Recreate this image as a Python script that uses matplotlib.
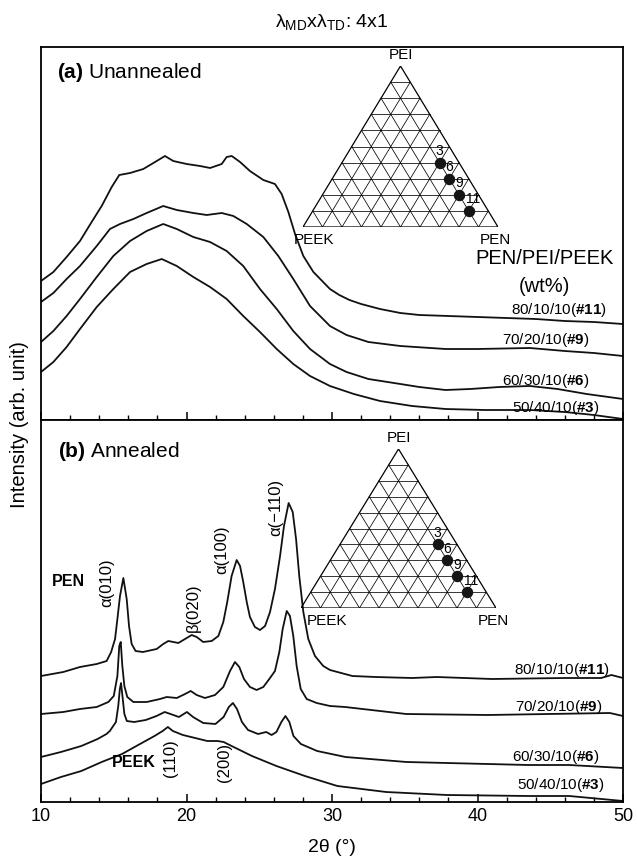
"""
WAXD profiles of PEN/PEI/PEEK blend films drawn 4x1 (MD x TD),
before and after annealing, with the blend compositions on ternary insets.
"""

import numpy as np
from matplotlib import pyplot as plt

plt.rcParams['font.family'] = ['Liberation Sans', 'DejaVu Sans']
plt.rcParams['mathtext.fontset'] = 'custom'
plt.rcParams['mathtext.rm'] = 'Liberation Sans'
plt.rcParams['mathtext.it'] = 'Liberation Sans:italic'
plt.rcParams['mathtext.bf'] = 'Liberation Sans:bold'

# ---- blend compositions (wt%) ----
sample_ids = ['11', '9', '6', '3']
pen_wt = [80, 70, 60, 50]
pei_wt = [10, 20, 30, 40]
peek_wt = [10, 10, 10, 10]

# ---- (a) unannealed, stacked intensity (arb. unit) ----
ua_tt_11 = [10.0, 10.85, 11.76, 12.68, 13.48, 14.17, 14.86, 15.38, 16.12, 17.03, 17.84, 18.52,
            19.09, 20.01, 20.93, 21.62, 22.42, 22.76, 23.11, 23.68, 24.36, 25.28, 26.08, 26.54,
            27.0, 27.46, 28.03, 28.72, 29.86, 30.5, 31.2, 32.0, 33.3, 34.7, 36.0, 38.0, 40.0,
            42.0, 44.0, 46.0, 48.0, 50.0]
ua_i_11 = [139, 148, 163, 179, 198, 214, 233, 245, 247, 251, 258, 264,
           259, 256, 254, 252, 256, 263, 264, 258, 249, 240, 236, 226,
           208, 186, 164, 148, 131, 125, 120, 116, 111, 107, 105, 104, 103,
           102, 101, 99, 98, 96]

ua_tt_9 = [10.0, 10.85, 11.76, 12.68, 13.83, 14.74, 15.43, 16.35, 17.26, 18.4, 19.33, 20.47,
           21.39, 22.42, 23.22, 24.14, 25.28, 26.31, 27.34, 28.49, 29.86, 31.0, 32.5, 34.7,
           37.8, 40.0, 43.6, 46.0, 48.0, 50.0]
ua_i_9 = [118, 127, 141, 154, 174, 191, 196, 201, 207, 214, 210, 207,
          205, 207, 204, 196, 183, 164, 141, 114, 94, 85, 78, 74,
          71, 71, 72, 69, 67, 64]

ua_tt_6 = [10.0, 10.85, 11.76, 12.68, 13.83, 14.97, 16.12, 17.26, 18.4, 19.33, 20.47, 21.62,
           22.76, 23.9, 25.05, 26.2, 27.34, 28.49, 29.86, 31.0, 32.5, 34.7, 36.0, 37.8,
           39.5, 41.5, 43.6, 45.5, 47.5, 50.0]
ua_i_6 = [78, 89, 104, 121, 143, 164, 179, 189, 196, 191, 183, 178,
          169, 154, 131, 111, 89, 71, 56, 48, 41, 36, 33, 30,
          31, 33, 34, 31, 26, 21]

ua_tt_3 = [10.0, 10.85, 11.76, 12.68, 13.83, 14.97, 16.12, 17.26, 18.3, 19.33, 20.47, 21.62,
           22.76, 23.9, 25.05, 26.2, 27.34, 28.49, 29.86, 31.5, 33.3, 35.5, 37.8, 40.5,
           43.6, 46.0, 48.0, 50.0]
ua_i_3 = [48, 58, 73, 91, 113, 131, 148, 156, 161, 154, 143, 133,
          121, 104, 88, 71, 56, 44, 34, 26, 19, 14, 11, 10,
          10, 8, 5, 1]

# ---- (b) annealed, stacked intensity (arb. unit) ----
an_tt_11 = [10.0, 11.53, 12.68, 13.83, 14.51, 14.82, 15.09, 15.25, 15.43, 15.66, 15.89, 16.05,
            16.23, 16.5, 17.0, 17.95, 18.4, 18.75, 19.1, 19.44, 19.9, 20.36, 20.7, 21.15,
            21.73, 22.19, 22.53, 22.8, 23.1, 23.45, 23.68, 23.9, 24.14, 24.36, 24.7, 25.05,
            25.4, 25.74, 26.08, 26.43, 26.7, 27.02, 27.3, 27.53, 27.75, 28.03, 28.37, 28.83,
            29.4, 29.86, 31.4, 33.0, 35.5, 37.2, 41.0, 46.0, 48.5, 49.2, 50.0]
an_i_11 = [126, 130, 135, 138, 141, 150, 163, 183, 206, 224, 203, 176,
           158, 151, 150, 153, 158, 161, 160, 159, 163, 167, 165, 160,
           161, 166, 180, 200, 226, 242, 236, 220, 200, 185, 175, 172,
           176, 190, 213, 246, 276, 299, 290, 263, 226, 190, 163, 146,
           136, 132, 126, 125, 124, 125, 123, 124, 124, 127, 124]

an_tt_9 = [10.0, 11.53, 12.68, 13.83, 14.63, 15.0, 15.25, 15.38, 15.48, 15.59, 15.73, 15.93,
           16.35, 17.26, 18.18, 18.64, 19.33, 19.9, 20.29, 20.7, 21.27, 21.96, 22.53, 22.99,
           23.33, 23.63, 23.95, 24.36, 24.82, 25.28, 25.74, 26.08, 26.38, 26.61, 26.89, 27.11,
           27.34, 27.57, 27.85, 28.26, 28.95, 29.86, 30.9, 35.1, 40.7, 49.1, 50.0]
an_i_9 = [88, 90, 93, 95, 100, 106, 126, 156, 160, 136, 116, 105,
          100, 100, 103, 105, 104, 108, 111, 107, 104, 107, 115, 131,
          140, 135, 123, 115, 112, 115, 124, 131, 150, 173, 191, 186,
          166, 136, 113, 103, 99, 96, 95, 88, 87, 89, 86]

an_tt_6 = [10.0, 11.37, 12.77, 13.89, 14.5, 14.73, 15.15, 15.31, 15.42, 15.5, 15.62, 15.73,
           15.9, 16.4, 17.2, 17.94, 18.5, 18.9, 19.48, 20.03, 20.45, 21.15, 21.99, 22.55,
           22.91, 23.19, 23.47, 23.81, 24.23, 24.92, 25.48, 25.85, 26.18, 26.52, 26.8, 27.07,
           27.35, 27.86, 28.98, 30.93, 35.12, 37.9, 43.5, 46.3, 50.0]
an_i_6 = [45, 50, 56, 63, 68, 71, 80, 96, 113, 119, 103, 88,
          81, 80, 82, 86, 90, 88, 85, 90, 85, 79, 78, 85,
          95, 99, 93, 80, 72, 68, 70, 67, 70, 80, 86, 80,
          66, 58, 51, 45, 40, 39, 37, 37, 34]

an_tt_3 = [10.0, 11.37, 12.77, 14.17, 15.57, 16.68, 17.8, 18.36, 18.72, 19.06, 19.75, 20.59,
           21.43, 22.13, 22.55, 23.1, 24.5, 26.18, 28.14, 30.37, 33.72, 37.9, 43.5, 46.3, 50.0]
an_i_3 = [18, 25, 31, 40, 48, 57, 66, 71, 75, 71, 67, 64,
          61, 61, 60, 56, 46, 36, 26, 16, 10, 7, 6, 6, 1]

W, H = 637, 862


def px_rect(left, top, right, bottom):
    # figure-fraction rectangle from pixel edges
    return [left / W, 1 - bottom / H, (right - left) / W, (bottom - top) / H]


def sample_label(comp_id, pen, pei, peek):
    return r'%d/%d/%d($\mathbf{\#%s}$)' % (pen, pei, peek, comp_id)


def ternary(fig, rect, peek_x, peek_ha):
    ax = fig.add_axes(rect)
    ax.set_xlim(0, 1)
    ax.set_ylim(0, 1)
    ax.axis('off')
    for k in range(1, 10):
        f = k / 10
        ax.plot([f / 2, 1 - f / 2], [f, f], color='k', lw=0.55)
        ax.plot([f, f + (1 - f) / 2], [0, 1 - f], color='k', lw=0.55)
        ax.plot([1 - f, (1 - f) / 2], [0, 1 - f], color='k', lw=0.55)
    ax.plot([0, 1, 0.5, 0], [0, 0, 1, 0], color='k', lw=0.9)

    pen = np.array(pen_wt) / 100
    pei = np.array(pei_wt) / 100
    tx = pen + pei / 2
    ax.scatter(tx, pei, s=52, color='#151515', zorder=3, clip_on=False)
    for x, y, sid in zip(tx, pei, sample_ids):
        dx = 3 if len(sid) > 1 else 0
        ax.annotate(sid, (x, y), xytext=(dx, 9), textcoords='offset points',
                    ha='center', va='center', fontsize=10)

    ax.text(0.5, 1.075, 'PEI', ha='center', va='center', fontsize=11)
    ax.text(peek_x, -0.075, 'PEEK', ha=peek_ha, va='center', fontsize=11)
    ax.text(0.985, -0.075, 'PEN', ha='center', va='center', fontsize=11)


def style_axis(ax, ymax):
    ax.set_xlim(10, 50)
    ax.set_ylim(0, ymax)
    ax.set_yticks([])
    ax.set_xticks([10, 20, 30, 40, 50])
    ax.set_xticks(np.arange(10, 51, 2), minor=True)
    ax.tick_params(axis='x', which='major', direction='in', length=6, width=1.1, labelsize=13)
    ax.tick_params(axis='x', which='minor', direction='in', length=3.5, width=1.0)
    for s in ax.spines.values():
        s.set_linewidth(1.3)


def main():
    fig = plt.figure(figsize=(W / 100, H / 100), dpi=100)

    ax_a = fig.add_axes(px_rect(41, 48, 623, 421))
    ax_b = fig.add_axes(px_rect(41, 421, 623, 803))
    style_axis(ax_a, 373)
    style_axis(ax_b, 382)
    ax_a.tick_params(axis='x', labelbottom=False)

    line = dict(color='#111111', lw=1.3)

    # (a) unannealed
    for tt, inten in [(ua_tt_11, ua_i_11), (ua_tt_9, ua_i_9), (ua_tt_6, ua_i_6), (ua_tt_3, ua_i_3)]:
        ax_a.plot(tt, inten, **line)
    ax_a.text(0.027, 0.935, r'$\mathbf{(a)}$ Unannealed', transform=ax_a.transAxes,
              fontsize=15, va='center')
    ax_a.text(44.6, 163, 'PEN/PEI/PEEK', ha='center', va='center', fontsize=14.5)
    ax_a.text(44.6, 134, '(wt%)', ha='center', va='center', fontsize=14.5)
    a_label_pos = [(45.6, 111), (44.7, 81), (44.7, 40), (45.4, 13)]
    for (x, y), sid, pn, pi, pk in zip(a_label_pos, sample_ids, pen_wt, pei_wt, peek_wt):
        ax_a.text(x, y, sample_label(sid, pn, pi, pk), ha='center', va='center', fontsize=11)

    # (b) annealed
    for tt, inten in [(an_tt_11, an_i_11), (an_tt_9, an_i_9), (an_tt_6, an_i_6), (an_tt_3, an_i_3)]:
        ax_b.plot(tt, inten, **line)
    ax_b.text(0.029, 0.919, r'$\mathbf{(b)}$ Annealed', transform=ax_b.transAxes,
              fontsize=15, va='center')
    b_label_pos = [(45.8, 133), (45.6, 96), (45.4, 46), (45.7, 18)]
    for (x, y), sid, pn, pi, pk in zip(b_label_pos, sample_ids, pen_wt, pei_wt, peek_wt):
        ax_b.text(x, y, sample_label(sid, pn, pi, pk), ha='center', va='center', fontsize=11)

    # reflections
    ax_b.text(11.9, 221, 'PEN', fontweight='bold', ha='center', va='center', fontsize=11.5)
    ax_b.text(16.4, 40, 'PEEK', fontweight='bold', ha='center', va='center', fontsize=11.5)
    peaks = [(14.5, 220, 'α(010)'), (20.5, 195, 'β(020)'), (22.4, 253, 'α(100)'),
             (26.1, 296, 'α(\u2212110)'), (18.9, 45, '(110)'), (22.6, 41, '(200)')]
    for x, y, txt in peaks:
        ax_b.text(x, y, txt, rotation=90, ha='center', va='center', fontsize=12)

    ternary(fig, px_rect(303, 67, 498, 228), 0.056, 'center')
    ternary(fig, px_rect(301, 450, 496, 609), 0.03, 'left')

    fig.text(332 / W, 1 - 22 / H, r'$\mathrm{λ_{MD}xλ_{TD}}$: 4x1', ha='center', va='center', fontsize=14)
    fig.text(332 / W, 1 - 848 / H, '2θ (°)', ha='center', va='center', fontsize=14)
    fig.text(20 / W, 1 - 425 / H, 'Intensity (arb. unit)', rotation=90,
             ha='center', va='center', fontsize=14.5)

    fig.savefig('out.png', dpi=100)


if __name__ == "__main__":
    main()
